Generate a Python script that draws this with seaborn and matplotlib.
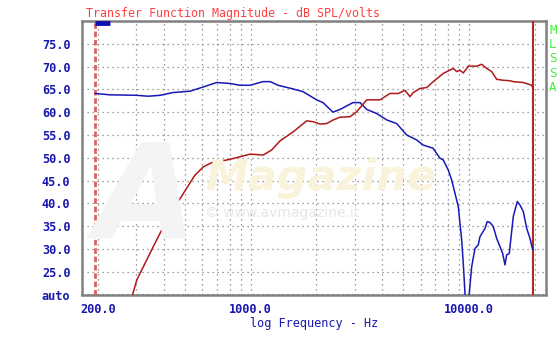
import matplotlib
matplotlib.use("Agg")
import matplotlib.pyplot as plt
from matplotlib.ticker import FixedLocator, FixedFormatter, NullFormatter
import pandas as pd
import seaborn as sns

# Woofer-side response (blue) and tweeter-side response (red), dB SPL/volt
blue_freq = [194, 227, 300, 340, 385, 440, 527, 586, 699, 804, 893, 993, 1140,
             1230, 1334, 1562, 1736, 2005, 2143, 2381, 2564, 2941, 3166, 3398,
             3776, 4195, 4661, 5179, 5755, 6151, 6834, 7359, 7619, 8031, 8325,
             8617, 8923, 9084, 9249, 9406, 9576, 9800, 10021, 10278, 10641,
             11018, 11217, 11824, 12113, 12465, 12906, 13378, 13851, 14249,
             14600, 14865, 15277, 15936, 16623, 17110, 17715, 18359, 19008, 19558]
blue_db = [64.1, 63.8, 63.7, 63.5, 63.7, 64.3, 64.6, 65.3, 66.5, 66.3, 65.9, 65.9,
           66.7, 66.7, 65.9, 65.1, 64.5, 62.7, 62.1, 60.0, 60.6, 62.1, 62.1, 60.6,
           59.7, 58.3, 57.5, 55.0, 53.9, 52.8, 52.1, 49.9, 49.5, 47.3, 45.1, 42.2,
           39.3, 35.6, 32.0, 26.8, 20.3, 14.0, 20.3, 26.1, 30.1, 30.9, 32.7, 34.5,
           36.0, 35.8, 34.9, 32.3, 30.5, 29.0, 26.5, 28.7, 29.0, 37.1, 40.4, 39.6,
           38.2, 34.5, 32.3, 29.8]

red_freq = [270, 288, 301, 328, 358, 391, 427, 466, 509, 556, 607, 674, 777, 893,
            993, 1142, 1248, 1362, 1567, 1805, 1934, 2077, 2228, 2389, 2564, 2849,
            3058, 3398, 3908, 4343, 4741, 5088, 5363, 5553, 5958, 6394, 6858, 7619,
            8468, 8776, 9084, 9406, 9915, 10834, 11421, 12040, 12693, 13378, 14340,
            15392, 15936, 17715, 19351, 19680]
red_db = [15.0, 20.0, 23.2, 26.8, 30.5, 34.1, 37.4, 40.4, 43.3, 46.2, 48.0, 49.1,
          49.5, 50.2, 50.8, 50.6, 51.7, 53.7, 55.7, 58.1, 57.9, 57.4, 57.5, 58.3,
          58.9, 59.0, 60.1, 62.7, 62.7, 64.1, 64.1, 64.8, 63.4, 64.3, 65.2, 65.4,
          66.7, 68.5, 69.6, 68.9, 69.2, 68.6, 70.1, 70.1, 70.5, 69.6, 68.9, 67.2,
          67.0, 66.9, 66.7, 66.5, 65.9, 65.2]

# Axis ticks and labels
x_major = [200, 1000, 10000]
x_major_labels = ["200.0", "1000.0", "10000.0"]
x_minor = [300, 400, 500, 600, 700, 800, 900,
           2000, 3000, 4000, 5000, 6000, 7000, 8000, 9000, 20000]
y_ticks = [20, 25, 30, 35, 40, 45, 50, 55, 60, 65, 70, 75]
y_labels = ["auto", "25.0", "30.0", "35.0", "40.0", "45.0", "50.0",
            "55.0", "60.0", "65.0", "70.0", "75.0"]

# Measurement window markers
gate_start = 194
gate_end = 19700
marker_span = [194, 228]
marker_level = 79.6

blue_df = pd.DataFrame({"freq": blue_freq, "db": blue_db})
red_df = pd.DataFrame({"freq": red_freq, "db": red_db})

sns.set_theme(style="white")
plt.rcParams["font.family"] = ["DejaVu Sans Mono", "DejaVu Sans"]

W, H = 560, 341
fig = plt.figure(figsize=(W / 100, H / 100), dpi=100)
fig.patch.set_facecolor("white")
left, right, top, bottom = 81.5, 546, 21, 294.5
ax = fig.add_axes([left / W, 1 - bottom / H, (right - left) / W, (bottom - top) / H])
ax.set_facecolor("white")

# Faint publisher watermark behind the curves
fig.text(95 / W, 1 - 238 / H, "A", fontsize=95, fontweight="bold", style="italic",
         color="#f4f4f4", family="DejaVu Sans", zorder=0)
fig.text(205 / W, 1 - 190 / H, "Magazine", fontsize=31, fontweight="bold",
         style="italic", color="#f8f3da", family="DejaVu Sans", zorder=0)
fig.text(205 / W, 1 - 213 / H, "\u00a9 www.avmagazine.it", fontsize=10,
         color="#e6e6e6", family="DejaVu Sans", va="center", zorder=0)

ax.set_xscale("log")
ax.set_xlim(168, 22500)
ax.set_ylim(20, 80)

grid_kw = dict(color="#808080", linewidth=0.9, linestyle=(0, (1, 3)))
ax.xaxis.set_major_locator(FixedLocator(x_major))
ax.xaxis.set_major_formatter(FixedFormatter(x_major_labels))
ax.xaxis.set_minor_locator(FixedLocator(x_minor))
ax.xaxis.set_minor_formatter(NullFormatter())
ax.yaxis.set_major_locator(FixedLocator(y_ticks))
ax.yaxis.set_major_formatter(FixedFormatter(y_labels))
ax.grid(True, which="both", axis="x", **grid_kw)
ax.grid(True, which="major", axis="y", **grid_kw)
ax.set_axisbelow(True)

ax.axvline(gate_start, color="#e06060", linewidth=2.0, linestyle=(0, (2, 1)), zorder=3)
ax.axvline(gate_end, color="#b02828", linewidth=1.5, zorder=3)
ax.hlines(marker_level, marker_span[0], marker_span[1], color="#1010b0",
          linewidth=3.5, zorder=4, clip_on=False)

sns.lineplot(data=blue_df, x="freq", y="db", ax=ax, color="#1818b8",
             linewidth=1.1, sort=False, estimator=None, zorder=5)
sns.lineplot(data=red_df, x="freq", y="db", ax=ax, color="#b01818",
             linewidth=1.1, sort=False, estimator=None, zorder=5)

for s in ax.spines.values():
    s.set_visible(True)
    s.set_color("#808080")
    s.set_linewidth(1.8)

ax.tick_params(axis="y", which="major", direction="out", length=6, width=1.4,
               color="#808080", pad=2)
ax.tick_params(axis="x", which="major", direction="out", length=6, width=1.4,
               color="#808080", pad=0)
ax.tick_params(axis="x", which="minor", direction="out", length=4, width=1.2,
               color="#808080")
for lab in ax.get_xticklabels() + ax.get_yticklabels():
    lab.set_color("#1818b0")
    lab.set_fontweight("bold")
    lab.set_fontsize(8.6)

ax.set_xlabel("log Frequency - Hz", color="#1818b0", fontsize=8.6, labelpad=1)
ax.set_ylabel("")

fig.text(86 / W, 1 - 13.5 / H, "Transfer Function Magnitude - dB SPL/volts",
         color="#ff4040", fontsize=8.4, ha="left", va="center")

for i, ch in enumerate("MLSSA"):
    fig.text(553 / W, 1 - (30 + 14.4 * i) / H, ch, color="#40f040",
             fontsize=9, ha="center", va="center")

fig.savefig("out.png", dpi=100, facecolor="white")
